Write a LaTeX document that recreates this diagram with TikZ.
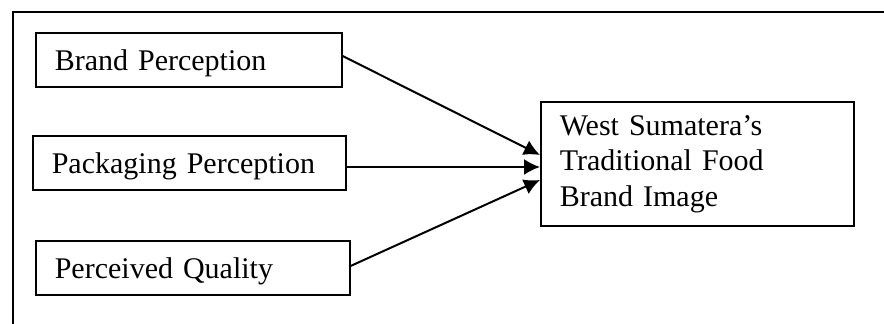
\documentclass[tikz,border=0pt]{standalone}
\usepackage{fontspec}
\setmainfont{Liberation Serif}
\usetikzlibrary{arrows.meta}

\tikzset{
  factor/.style={draw, line width=0.8pt, anchor=west, align=left,
    inner xsep=9.5pt, minimum height=27pt,
    font=\fontsize{15}{17.7}\selectfont},
  cause/.style={factor, text depth=0pt},
  link/.style={line width=1pt, -{Latex[length=8pt,width=8pt]}}
}

\begin{document}
\begin{tikzpicture}[x=0.5pt,y=-0.5pt]
        \useasboundingbox (0,0) rectangle (884,324);
        \clip (0,0) rectangle (884,324);
        % Outer frame
        \draw[line width=1pt] (13,12) rectangle (900,340);
        % Boxes on the left
        \node[cause, text width=134pt] (brand) at (35,60) {Brand Perception};
        \node[cause, text width=137.5pt] (pack) at (32,163) {Packaging Perception};
        \node[cause, text width=138pt] (qual) at (35,268) {Perceived Quality};
        % Box on the right
        \node[factor, text width=137.5pt, minimum height=62pt] (image) at (540,164)
          {West Sumatera’s\\Traditional Food\\Brand Image};
        % Arrows
        \draw[link] ([yshift=2pt]brand.east) -- ([yshift=4.5pt]image.west);
        \draw[link] ([yshift=-2pt]pack.east) -- ([yshift=-1.5pt]image.west);
        \draw[link] ([yshift=1pt]qual.east) -- ([yshift=-8pt]image.west);
    \end{tikzpicture}
\end{document}
